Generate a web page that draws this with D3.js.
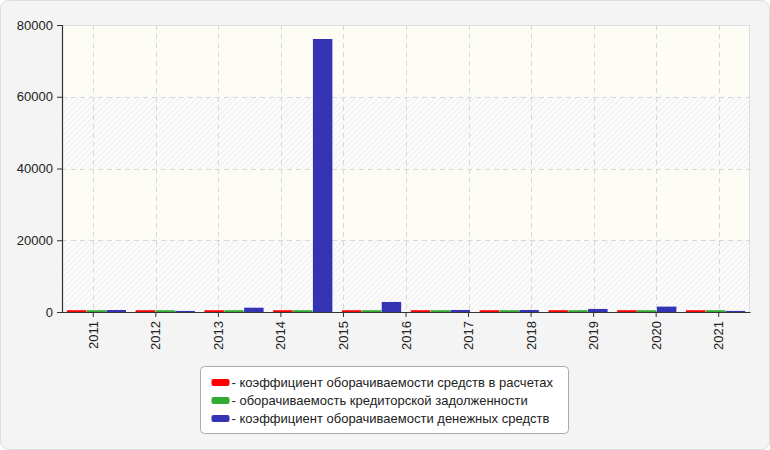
<!DOCTYPE html>
<html>
<head>
<meta charset="utf-8">
<script src="https://cdn.jsdelivr.net/npm/d3@7"></script>
<style>
  body { margin: 0; background: #fff; }
  svg { display: block; font-family: "Liberation Sans", Arial, sans-serif; }
</style>
</head>
<body>
<svg id="chart" width="770" height="450"></svg>
<script>
// tick labels on the x axis (11 of them) - the bars come in 10 groups that
// do not line up with the ticks in the original, so they get their own scale
const years = ["2011", "2012", "2013", "2014", "2015", "2016", "2017", "2018", "2019", "2020", "2021"];
const receivables = [500, 500, 500, 500, 500, 500, 500, 500, 500, 500];
const payables = [500, 500, 500, 500, 500, 500, 500, 500, 500, 500];
const cash = [560, 300, 1200, 76100, 2800, 560, 560, 850, 1500, 300];
const seriesNames = [
    "коэффициент оборачиваемости средств в расчетах",
    "оборачиваемость кредиторской задолженности",
    "коэффициент оборачиваемости денежных средств"
];
const seriesColors = ["#ff0000", "#33aa33", "#3333b3"];
const yTicks = [0, 20000, 40000, 60000, 80000];

const seriesValues = [receivables, payables, cash];
const rows = cash.map((c, i) => ({ idx: i, values: seriesValues.map(s => s[i]) }));

const svg = d3.select("#chart");

const plot = { left: 62, right: 750, top: 25, bottom: 312 };

// card background
svg.append("rect")
    .attr("x", 0.5).attr("y", 0.5)
    .attr("width", 769).attr("height", 449)
    .attr("rx", 8)
    .attr("fill", "#f4f4f4")
    .attr("stroke", "#dcdcdc");

const defs = svg.append("defs");
const pat = defs.append("pattern")
    .attr("id", "hatch")
    .attr("width", 4).attr("height", 4)
    .attr("patternUnits", "userSpaceOnUse")
    .attr("patternTransform", "rotate(45)");
pat.append("rect").attr("width", 4).attr("height", 4).attr("fill", "#fcfcfc");
pat.append("line")
    .attr("x1", 0.5).attr("y1", 0).attr("x2", 0.5).attr("y2", 4)
    .attr("stroke", "#efefef").attr("stroke-width", 1.2);

const x = d3.scaleBand().domain(years).range([plot.left, plot.right]);
const xBars = d3.scaleBand().domain(d3.range(cash.length))
    .range([plot.left, plot.right])
    .paddingInner(0.14).paddingOuter(0.07);
const x1 = d3.scaleBand().domain(d3.range(3)).range([0, xBars.bandwidth()]).paddingInner(0.02);
const y = d3.scaleLinear().domain([0, 80000]).range([plot.bottom, plot.top]);

// alternating bands: hatched / cream
const bands = d3.pairs(yTicks);
svg.append("g").selectAll("rect")
    .data(bands)
    .join("rect")
    .attr("x", plot.left)
    .attr("y", d => y(d[1]))
    .attr("width", plot.right - plot.left)
    .attr("height", d => y(d[0]) - y(d[1]))
    .attr("fill", (d, i) => i % 2 ? "#fdfdf5" : "url(#hatch)");
svg.append("rect")
    .attr("x", plot.left + 0.5).attr("y", plot.top + 0.5)
    .attr("width", plot.right - plot.left - 1)
    .attr("height", plot.bottom - plot.top)
    .attr("fill", "none")
    .attr("stroke", "#dddddd");

// grid
svg.append("g").selectAll("line")
    .data(yTicks.slice(1, -1))
    .join("line")
    .attr("x1", plot.left).attr("x2", plot.right)
    .attr("y1", d => Math.round(y(d)) + 0.5).attr("y2", d => Math.round(y(d)) + 0.5)
    .attr("stroke", "#d8d8d8").attr("stroke-dasharray", "5,4");
svg.append("g").selectAll("line")
    .data(years)
    .join("line")
    .attr("x1", d => Math.round(x(d) + x.bandwidth() / 2) + 0.5)
    .attr("x2", d => Math.round(x(d) + x.bandwidth() / 2) + 0.5)
    .attr("y1", plot.top).attr("y2", plot.bottom)
    .attr("stroke", "#d8d8d8").attr("stroke-dasharray", "5,4");

// bars
svg.append("g").selectAll("g")
    .data(rows)
    .join("g")
    .attr("transform", d => `translate(${xBars(d.idx)},0)`)
    .selectAll("rect")
    .data(d => d.values)
    .join("rect")
    .attr("x", (d, i) => x1(i))
    .attr("width", x1.bandwidth())
    .attr("y", d => y(d))
    .attr("height", d => y(0) - y(d))
    .attr("fill", (d, i) => seriesColors[i]);

// axes
const yAxis = svg.append("g")
    .attr("transform", `translate(${plot.left},0)`)
    .call(d3.axisLeft(y).tickValues(yTicks).tickSize(5).tickPadding(4).tickFormat(d3.format("d")));
const xAxis = svg.append("g")
    .attr("transform", `translate(0,${plot.bottom})`)
    .call(d3.axisBottom(x).tickSize(5).tickSizeOuter(0));

[yAxis, xAxis].forEach(a => {
    a.select(".domain").attr("stroke", "#333").attr("stroke-width", 1.2);
    a.selectAll(".tick line").attr("stroke", "#333");
    a.selectAll("text").attr("fill", "#222")
        .style("font-family", "'Liberation Sans', Arial, sans-serif")
        .style("font-size", "13px");
});
xAxis.selectAll("text")
    .attr("text-anchor", "end")
    .attr("dy", "0.35em")
    .attr("transform", "translate(0,9) rotate(-90)")
    .attr("x", 0).attr("y", 0);

// legend
const legend = svg.append("g").attr("transform", "translate(200.5,366.5)");
legend.append("rect")
    .attr("width", 368).attr("height", 67)
    .attr("rx", 4)
    .attr("fill", "#fff")
    .attr("stroke", "#aaaaaa");
const item = legend.selectAll("g.item")
    .data(seriesNames)
    .join("g")
    .attr("class", "item")
    .attr("transform", (d, i) => `translate(11,${16 + i * 18})`);
item.append("rect")
    .attr("x", 0).attr("y", -3.5)
    .attr("width", 18).attr("height", 7)
    .attr("rx", 2)
    .attr("fill", (d, i) => seriesColors[i]);
item.append("text")
    .attr("x", 20).attr("y", 0)
    .attr("dy", "0.35em")
    .attr("fill", "#222")
    .style("font-size", "13px")
    .text(d => "- " + d);
</script>
</body>
</html>
